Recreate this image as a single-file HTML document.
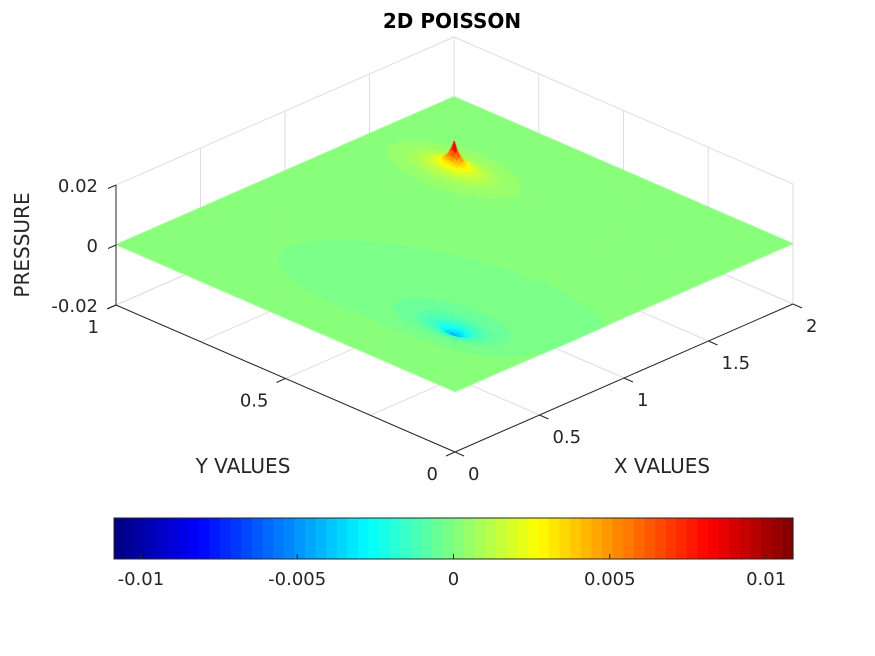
<!DOCTYPE html>
<html><head><meta charset="utf-8">
<style>
html,body{margin:0;padding:0;background:#fff;}
#wrap{position:relative;width:875px;height:656px;overflow:hidden;font-family:"DejaVu Sans","Liberation Sans",sans-serif;}
canvas,svg{position:absolute;left:0;top:0;}
</style></head>
<body>
<div id="wrap">
<svg id="back" width="875" height="656"></svg>
<canvas id="surf" width="875" height="656"></canvas>
<svg id="front" width="875" height="656"></svg>
</div>
<script>
// ---- data ----
const sourceX = [1.5, 0.45];
const sourceY = [0.75, 0.225];
const spikeStrength = [0.0062, -0.0045];
const spikeWidth = [0.018, 0.016];
const haloStrength = [0.0035, -0.003];
const haloWidth = [0.065, 0.055];
const broadX = [0.62];
const broadY = [0.35];
const broadStrength = [-0.0003];
const broadAxisLong = [0.43];
const broadAxisShort = [0.31];
const baseLevel = 0.0001;
const xTicks = [0, 0.5, 1, 1.5, 2];
const xTickLabels = ["0","0.5","1","1.5","2"];
const yTicks = [0, 0.5, 1];
const yTickLabels = ["0","0.5","1"];
const zTicks = [-0.02, 0, 0.02];
const zTickLabels = ["-0.02","0","0.02"];
const cTicks = [-0.01, -0.005, 0, 0.005, 0.01];
const cTickLabels = ["-0.01","-0.005","0","0.005","0.01"];
const cLim = [-0.01086, 0.01086];

// ---- projection ----
function P(x,y,z){return [455+169*x-339*y, 392-74*x-147*y-3000*z];}
function jet(t){
  t=Math.max(0,Math.min(1,t));
  const r=Math.min(Math.max(1.5-Math.abs(4*t-3),0),1);
  const g=Math.min(Math.max(1.5-Math.abs(4*t-2),0),1);
  const b=Math.min(Math.max(1.5-Math.abs(4*t-1),0),1);
  return [Math.round(r*255),Math.round(g*255),Math.round(b*255)];
}
function cmap(v){
  let t=(v-cLim[0])/(cLim[1]-cLim[0]);
  let k=Math.floor(t*64); k=Math.max(0,Math.min(63,k));
  return jet((k+0.5)/64);
}
function field(x,y){
  let z=baseLevel;
  for(let i=0;i<sourceX.length;i++){
    const dx=x-sourceX[i],dy=y-sourceY[i];
    const r=Math.sqrt(dx*dx+dy*dy);
    z+=spikeStrength[i]*Math.exp(-r/spikeWidth[i])+haloStrength[i]*Math.exp(-r/haloWidth[i]);
  }
  for(let i=0;i<broadX.length;i++){
    const dx=x-broadX[i],dy=y-broadY[i];
    const u=(0.68*dx-0.73*dy)/broadAxisLong[i], v=(0.73*dx+0.68*dy)/broadAxisShort[i];
    const r=Math.sqrt(u*u+v*v);
    z+=broadStrength[i]*Math.exp(-Math.pow(r,6));
  }
  return z;
}
const NS='http://www.w3.org/2000/svg';
function el(parent,tag,attrs,text){
  const e=document.createElementNS(NS,tag);
  for(const k in attrs)e.setAttribute(k,attrs[k]);
  if(text!==undefined)e.textContent=text;
  parent.appendChild(e);return e;
}
function line(parent,a,b,stroke,w){
  return el(parent,'line',{x1:a[0],y1:a[1],x2:b[0],y2:b[1],stroke:stroke,'stroke-width':w||1});
}
// ---- back grid ----
const back=document.getElementById('back');
const zmin=-0.02,zmax=0.02;
const gc='#dedede';
for(const x of xTicks){const l=line(back,P(x,1,zmin),P(x,1,zmax),gc);}
const yGrid=[0,0.25,0.5,0.75,1];
for(const y of yGrid){const l=line(back,P(2,y,zmin),P(2,y,zmax),gc);}
for(const z of zTicks){
  const l1=line(back,P(0,1,z),P(2,1,z),gc);
  const l2=line(back,P(2,0,z),P(2,1,z),gc);
}
for(const x of xTicks){const l=line(back,P(x,0,zmin),P(x,1,zmin),gc);}
for(const y of yGrid){const l=line(back,P(0,y,zmin),P(2,y,zmin),gc);}

// ---- surface ----
const ctx=document.getElementById('surf').getContext('2d');
const NX=240,NY=120;
const quads=[];
for(let i=0;i<NX;i++)for(let j=0;j<NY;j++){
  const x0=2*i/NX,x1=2*(i+1)/NX,y0=j/NY,y1=(j+1)/NY;
  quads.push([x0,x1,y0,y1,74*(x0+x1)+147*(y0+y1)]);
}
quads.sort((a,b)=>b[4]-a[4]);
for(const q of quads){
  const [x0,x1,y0,y1]=q;
  const z00=field(x0,y0),z10=field(x1,y0),z11=field(x1,y1),z01=field(x0,y1);
  const c=cmap(Math.abs(z00)>Math.abs(z11)?(z00*0.5+(z10+z01+z11)/6):(z11*0.5+(z10+z01+z00)/6));
  const col='rgb('+c[0]+','+c[1]+','+c[2]+')';
  const a=P(x0,y0,z00),b=P(x1,y0,z10),d=P(x1,y1,z11),e=P(x0,y1,z01);
  ctx.beginPath();ctx.moveTo(a[0],a[1]);ctx.lineTo(b[0],b[1]);ctx.lineTo(d[0],d[1]);ctx.lineTo(e[0],e[1]);ctx.closePath();
  ctx.fillStyle=col;ctx.strokeStyle=col;ctx.lineWidth=0.6;ctx.fill();ctx.stroke();
}

// ---- axes foreground ----
const f=document.getElementById('front');
const ac='#262626';
let t=el(f,'text',{x:452,y:28,'text-anchor':'middle','font-size':20,'font-weight':'bold',fill:'#000'},'2D POISSON');

let ax=line(f,P(0,1,zmin),P(0,1,zmax),ac);
zTicks.forEach((z,i)=>{
  const p=P(0,1,z);
  line(f,p,[p[0]-8,p[1]+3.5],ac);
  const tl=el(f,'text',{x:p[0]-18,y:p[1]+7,'text-anchor':'end','font-size':18,fill:ac},zTickLabels[i]);
  
});
t=el(f,'text',{x:0,y:0,transform:'translate(29,245) rotate(-90)','text-anchor':'middle','font-size':20,fill:ac},'PRESSURE');

ax=line(f,P(0,0,zmin),P(2,0,zmin),ac);
xTicks.forEach((x,i)=>{
  const p=P(x,0,zmin);
  line(f,p,[p[0]+9,p[1]+4],ac);
  const tl=el(f,'text',{x:p[0]+13,y:p[1]+28,'text-anchor':'start','font-size':18,fill:ac},xTickLabels[i]);
  
});
t=el(f,'text',{x:662,y:473,'text-anchor':'middle','font-size':20,fill:ac},'X VALUES');

ax=line(f,P(0,0,zmin),P(0,1,zmin),ac);
yTicks.forEach((y,i)=>{
  const p=P(0,y,zmin);
  line(f,p,[p[0]-9,p[1]+4],ac);
  const tl=el(f,'text',{x:p[0]-17,y:p[1]+28,'text-anchor':'end','font-size':18,fill:ac},yTickLabels[i]);
  
});
t=el(f,'text',{x:243,y:473,'text-anchor':'middle','font-size':20,fill:ac},'Y VALUES');


// ---- colorbar ----
const cbX0=114,cbX1=793,cbY0=518,cbY1=559;
const cb=el(f,'g',{});

for(let k=0;k<64;k++){
  const c=jet((k+0.5)/64);
  const x0=cbX0+(cbX1-cbX0)*k/64,w=(cbX1-cbX0)/64;
  el(cb,'rect',{x:x0,y:cbY0,width:w+0.6,height:cbY1-cbY0,fill:'rgb('+c+')'});
}
el(cb,'rect',{x:cbX0,y:cbY0,width:cbX1-cbX0,height:cbY1-cbY0,fill:'none',stroke:ac,'stroke-width':1});
function cx(v){return cbX0+(v-cLim[0])/(cLim[1]-cLim[0])*(cbX1-cbX0);}
cTicks.forEach((v,i)=>{
  const x=cx(v);
  line(cb,[x,cbY1],[x,cbY1-5],ac);
  const tl=el(cb,'text',{x:x,y:585,'text-anchor':'middle','font-size':18,fill:ac},cTickLabels[i]);
  
});
</script>
</body></html>
